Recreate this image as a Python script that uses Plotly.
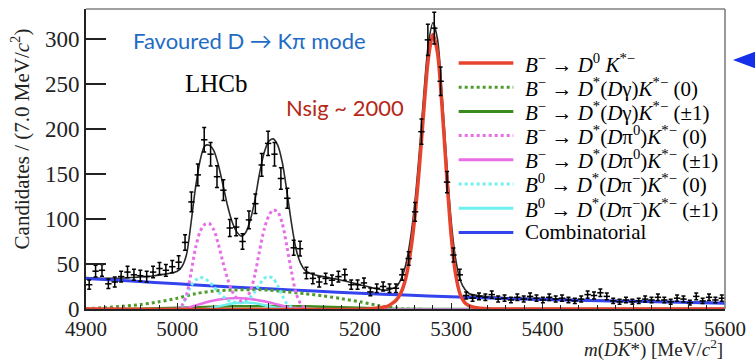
import numpy as np
import plotly.graph_objects as go

# ---------------- data ----------------
bin_lo = 4900.0
bin_w = 7.0
counts = [27, 42, 43, 28, 30, 36, 41, 38, 37, 36, 41, 45, 43, 47, 52, 74,
          119, 149, 188, 172, 147, 132, 90, 91, 75, 99, 117, 160, 184, 172,
          145, 123, 68, 67, 40, 34, 30, 34, 32, 36, 38, 27, 27, 29, 19, 23,
          25, 23, 23, 38, 56, 108, 197, 299, 312, 253, 141, 60, 38, 15,
          12, 14, 13, 16, 11, 12, 10, 13, 11, 14, 12, 10, 13, 11, 12, 10,
          9, 11, 16, 15, 18, 14, 9, 8, 10, 8, 9, 11, 10, 13, 10, 8, 12, 11,
          7, 14, 9, 13, 10, 12]

total_x = [4900, 4925, 4950, 4975, 5000, 5005, 5010, 5015, 5020, 5025, 5030, 5035,
           5040, 5045, 5050, 5055, 5060, 5065, 5070, 5075, 5080, 5085, 5090, 5095,
           5100, 5105, 5110, 5115, 5120, 5125, 5130, 5135, 5140, 5150, 5160, 5175,
           5200, 5220, 5230, 5240, 5245, 5250, 5255, 5260, 5265, 5270, 5275, 5280,
           5285, 5290, 5295, 5300, 5305, 5310, 5315, 5320, 5330, 5350, 5400, 5450,
           5500, 5550, 5600]
total_y = [35, 34, 35, 37, 42, 47, 60, 95, 135, 165, 181, 182, 176, 160, 138, 115,
           97, 86, 81, 85, 99, 121, 150, 173, 186, 189, 182, 163, 131, 96, 67, 51,
           43, 38, 36, 33, 27, 22, 21, 25, 33, 48, 75, 116, 172, 238, 294, 318,
           300, 240, 165, 98, 55, 32, 22, 17, 15, 13, 11.5, 10, 9, 8, 7]

sig_x = [4900, 5210, 5220, 5225, 5230, 5235, 5240, 5245, 5250, 5255, 5260, 5265, 5270,
         5275, 5280, 5285, 5290, 5295, 5300, 5305, 5310, 5315, 5320, 5325, 5330,
         5340, 5350, 5600]
sig_y = [0, 0, 1, 2, 3, 6, 10, 18, 33, 60, 100, 155, 220, 278, 305, 285, 225,
         150, 82, 38, 16, 7, 3.5, 2, 1, 0.3, 0, 0]

comb_x = [4900, 4950, 5000, 5050, 5100, 5150, 5200, 5250, 5300, 5350, 5400, 5450,
          5500, 5550, 5600]
comb_y = [34, 31, 28, 25, 22.5, 20, 17.5, 15.5, 13.5, 12, 10.5, 9.5, 8.5, 7.5, 6.5]

dg0_x = [4900, 4920, 4940, 4960, 4980, 5000, 5020, 5040, 5060, 5080, 5100, 5120,
         5140, 5160, 5180, 5200, 5220, 5240, 5250, 5600]
dg0_y = [0.5, 1.5, 3, 5, 8, 12, 17, 20, 21, 21.5, 21, 19, 17, 14.5, 11.5, 8, 4,
         1, 0, 0]

dg1_x = [4900, 4940, 4980, 5020, 5060, 5100, 5140, 5180, 5220, 5240, 5600]
dg1_y = [0, 0, 0.8, 2, 3, 3.2, 3, 2, 0.8, 0, 0]

dpi0_x = [4900, 4995, 5000, 5005, 5010, 5015, 5020, 5025, 5030, 5035, 5040, 5045,
          5050, 5055, 5060, 5065, 5070, 5075, 5080, 5085, 5090, 5095, 5100, 5105,
          5110, 5115, 5120, 5125, 5130, 5135, 5140, 5145, 5600]
dpi0_y = [0, 0, 1, 4, 15, 40, 68, 86, 94, 95, 88, 72, 52, 34, 20, 12, 9, 11, 20,
          38, 64, 88, 103, 110, 108, 95, 70, 42, 18, 6, 1, 0, 0]

dpi1_x = [4900, 5000, 5010, 5020, 5030, 5040, 5050, 5060, 5070, 5080, 5090, 5100,
          5110, 5120, 5130, 5140, 5600]
dpi1_y = [0, 0, 1, 4, 7, 9.5, 11, 12, 12, 11, 9.5, 7.5, 5, 2.5, 1, 0, 0]

dpm0_x = [4900, 5000, 5005, 5010, 5015, 5020, 5025, 5030, 5035, 5040, 5045, 5050,
          5055, 5060, 5065, 5070, 5075, 5080, 5085, 5090, 5095, 5100, 5105, 5110,
          5115, 5120, 5125, 5130, 5600]
dpm0_y = [0, 0, 3, 14, 26, 32, 35, 34, 30, 25, 19, 14, 10, 8, 7, 7, 9, 13, 19,
          27, 34, 36, 34, 26, 15, 6, 2, 0, 0]

dpm1_x = [4900, 5030, 5040, 5050, 5060, 5070, 5080, 5090, 5100, 5110, 5120, 5600]
dpm1_y = [0, 0, 1.5, 4, 6, 7, 7, 5.5, 3, 1, 0, 0]

x_ticks = [4900, 5000, 5100, 5200, 5300, 5400, 5500, 5600]
y_ticks = [0, 50, 100, 150, 200, 250, 300]

legend_labels = [
    "<i>B</i><sup>−</sup> → <i>D</i><sup>0</sup> <i>K</i><sup>*−</sup>",
    "<i>B</i><sup>−</sup> → <i>D</i><sup>*</sup>(<i>D</i>γ)<i>K</i><sup>*−</sup> (0)",
    "<i>B</i><sup>−</sup> → <i>D</i><sup>*</sup>(<i>D</i>γ)<i>K</i><sup>*−</sup> (±1)",
    "<i>B</i><sup>−</sup> → <i>D</i><sup>*</sup>(<i>D</i>π<sup>0</sup>)<i>K</i><sup>*−</sup> (0)",
    "<i>B</i><sup>−</sup> → <i>D</i><sup>*</sup>(<i>D</i>π<sup>0</sup>)<i>K</i><sup>*−</sup> (±1)",
    "<i>B</i><sup>0</sup> → <i>D</i><sup>*</sup>(<i>D</i>π<sup>−</sup>)<i>K</i><sup>*−</sup> (0)",
    "<i>B</i><sup>0</sup> → <i>D</i><sup>*</sup>(<i>D</i>π<sup>−</sup>)<i>K</i><sup>*−</sup> (±1)",
    "Combinatorial",
]

# ---------------- style ----------------
RED = "#e8432d"
GREEN_D = "#4f9b2c"
GREEN_S = "#3b8a1e"
MAG = "#e86ee8"
CYAN = "#6ff0f0"
BLUE = "#3344ee"
BLACK = "#2a2a2a"
SERIF = "Liberation Serif, Times New Roman, DejaVu Serif, serif"
SANS = "Lato, Open Sans, sans-serif"

W, H = 755, 361
L, R, T, B = 86, 729, 9, 309


def px(xp):
    return (xp - L) / (R - L)


def py(yp):
    return (B - yp) / (B - T)


centers = [bin_lo + bin_w * (k + 0.5) for k in range(len(counts))]
errs = [float(np.sqrt(c)) for c in counts]

fig = go.Figure()

fig.add_trace(go.Scatter(x=total_x, y=total_y, mode="lines",
                         line=dict(color=BLACK, width=1.6, shape="spline", smoothing=0.8)))

comps = [
    (comb_x, comb_y, BLUE, "solid", 3),
    (dg0_x, dg0_y, GREEN_D, "dot", 3),
    (dg1_x, dg1_y, GREEN_S, "solid", 2.5),
    (dpm1_x, dpm1_y, CYAN, "solid", 2.5),
    (dpi1_x, dpi1_y, MAG, "solid", 2.5),
    (dpm0_x, dpm0_y, CYAN, "dot", 3),
    (dpi0_x, dpi0_y, MAG, "dot", 3),
    (sig_x, sig_y, RED, "solid", 3.5),
]
for xs, ys, col, dash, w in comps:
    fig.add_trace(go.Scatter(x=xs, y=ys, mode="lines",
                             line=dict(color=col, width=w, dash=dash, shape="spline", smoothing=0.8)))

fig.add_trace(go.Scatter(
    x=centers, y=counts, mode="markers",
    marker=dict(size=2, color="black"),
    error_y=dict(type="data", array=errs, color="black", thickness=1.5, width=2),
    error_x=dict(type="data", array=[bin_w / 2] * len(counts), color="black", thickness=1.5, width=0),
))

shapes = []
shapes.append(dict(type="line", xref="paper", yref="paper", x0=0, x1=1, y0=1, y1=1,
                   line=dict(color="#808080", width=1.6)))
shapes.append(dict(type="line", xref="paper", yref="paper", x0=1, x1=1, y0=0, y1=1,
                   line=dict(color="#808080", width=1.6)))

leg_cols = [(RED, "solid", 3.5), (GREEN_D, "dot", 3), (GREEN_S, "solid", 3),
            (MAG, "dot", 3), (MAG, "solid", 3), (CYAN, "dot", 3), (CYAN, "solid", 3),
            (BLUE, "solid", 3)]
row_y0 = 63
row_dy = 24.2
annotations = []
for i, (lab, (col, dash, w)) in enumerate(zip(legend_labels, leg_cols)):
    yy = row_y0 + i * row_dy
    shapes.append(dict(type="line", xref="paper", yref="paper",
                       x0=px(461), x1=px(516), y0=py(yy), y1=py(yy),
                       line=dict(color=col, width=w, dash=dash)))
    annotations.append(dict(xref="paper", yref="paper", x=px(526), y=py(yy),
                            xanchor="left", yanchor="middle", showarrow=False,
                            text=lab, font=dict(family=SERIF, size=21, color="black")))

ax0 = px(737)
ax1 = px(760)
shapes.append(dict(type="path", xref="paper", yref="paper",
                   path=f"M {ax0} {py(60)} L {ax1} {py(51.5)} L {ax1} {py(68.5)} Z",
                   fillcolor="#1530e8", line=dict(width=0)))

annotations += [
    dict(xref="paper", yref="paper", x=px(131), y=py(40), xanchor="left", yanchor="middle",
         showarrow=False, text="Favoured D → Kπ mode",
         font=dict(family=SANS, size=22, color="#1e6cc4")),
    dict(xref="paper", yref="paper", x=px(217), y=py(83), xanchor="center", yanchor="middle",
         showarrow=False, text="LHCb", font=dict(family=SERIF, size=25, color="black")),
    dict(xref="paper", yref="paper", x=px(285), y=py(107), xanchor="left", yanchor="middle",
         showarrow=False, text="Nsig ~ 2000", font=dict(family=SANS, size=22, color="#b52818")),
    dict(xref="paper", yref="paper", x=px(20), y=py(139), xanchor="center", yanchor="middle",
         showarrow=False, textangle=-90,
         text="Candidates / (7.0 MeV/<i>c</i><sup>2</sup>)",
         font=dict(family=SERIF, size=21, color="#222")),
    dict(xref="paper", yref="paper", x=1.0, y=py(348.5), xanchor="right", yanchor="middle",
         showarrow=False,
         text="<i>m</i>(<i>DK</i>*) [MeV/<i>c</i><sup>2</sup>]",
         font=dict(family=SERIF, size=19, color="#222")),
]

fig.update_layout(
    width=W, height=H,
    margin=dict(l=L, r=W - R, t=T, b=H - B),
    paper_bgcolor="white", plot_bgcolor="white",
    showlegend=False,
    shapes=shapes, annotations=annotations,
    xaxis=dict(range=[4900, 5600], tickvals=x_ticks, ticktext=[str(v) for v in x_ticks],
               ticks="inside", ticklen=6, tickwidth=1.3, tickcolor="#222",
               minor=dict(dtick=20, tick0=4900, ticks="inside", ticklen=4, tickcolor="#222", tickwidth=1.2),
               showline=True, linecolor="#222", linewidth=2, showgrid=False, zeroline=False,
               tickfont=dict(family=SERIF, size=21, color="#222")),
    yaxis=dict(range=[0, 333.3], tickvals=y_ticks, ticktext=[str(v) for v in y_ticks],
               ticks="inside", ticklen=20, tickwidth=1.5, tickcolor="#222",
               showline=True, linecolor="#222", linewidth=2, showgrid=False, zeroline=False,
               tickfont=dict(family=SERIF, size=23, color="#222")),
)

fig.write_html("out.html")
